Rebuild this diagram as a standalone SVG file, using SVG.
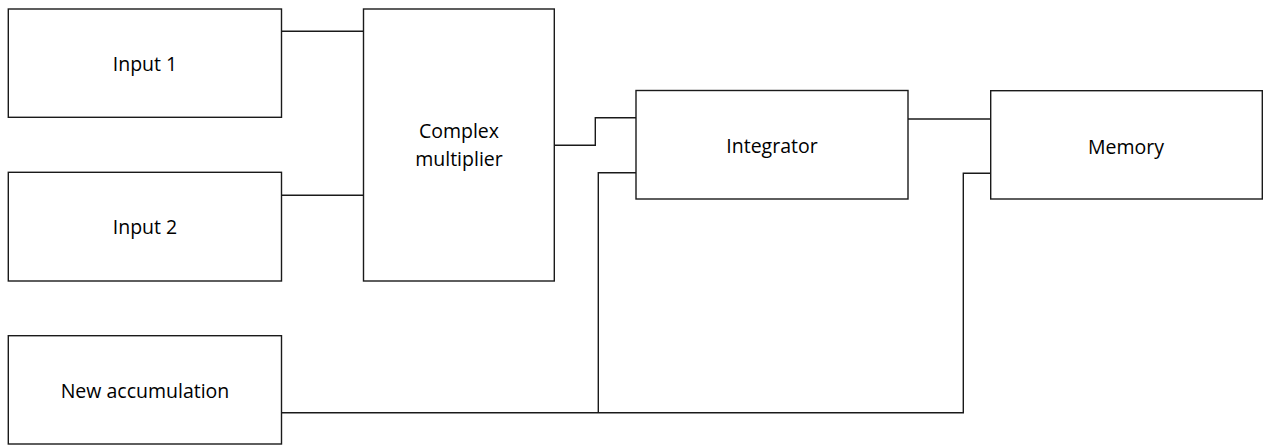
<svg xmlns="http://www.w3.org/2000/svg" width="1265" height="445" viewBox="0 0 1265 445">
  <style>
    .box { fill: #ffffff; stroke: #1a1a1a; stroke-width: 1.4; }
    .wire { fill: none; stroke: #1a1a1a; stroke-width: 1.4; }
    .label { font-family: "Open Sans", "Liberation Sans", sans-serif; font-size: 19.5px; fill: #000000; text-anchor: middle; }
  </style>
  <rect width="1265" height="445" fill="#ffffff"/>

  <!-- connectors -->
  <g id="connectors">
    <path class="wire" d="M281.5,31.3 H363.5"/>
    <path class="wire" d="M281.5,195.3 H363.5"/>
    <path class="wire" d="M554.3,145.3 H595.3 V117.7 H636"/>
    <path class="wire" d="M281.5,412.7 H963.3 V173.3 H990.7"/>
    <path class="wire" d="M598.3,412.7 V172.7 H636"/>
    <path class="wire" d="M908,119 H990.7"/>
  </g>

  <g id="input1">
    <rect class="box" x="8.3" y="9" width="273.2" height="108.3"/>
    <text class="label" x="145" y="71">Input 1</text>
  </g>

  <g id="input2">
    <rect class="box" x="8.3" y="172.3" width="273.2" height="108.7"/>
    <text class="label" x="145" y="234">Input 2</text>
  </g>

  <g id="new-accumulation">
    <rect class="box" x="8.3" y="335.7" width="273.2" height="108.3"/>
    <text class="label" x="145" y="398.3">New accumulation</text>
  </g>

  <g id="complex-multiplier">
    <rect class="box" x="363.5" y="9" width="190.8" height="272"/>
    <text class="label" x="459" y="138">Complex</text>
    <text class="label" x="459" y="165.7">multiplier</text>
  </g>

  <g id="integrator">
    <rect class="box" x="636" y="90.5" width="272" height="108.5"/>
    <text class="label" x="772" y="152.7">Integrator</text>
  </g>

  <g id="memory">
    <rect class="box" x="990.7" y="90.7" width="271.6" height="108.3"/>
    <text class="label" x="1126" y="154">Memory</text>
  </g>
</svg>
